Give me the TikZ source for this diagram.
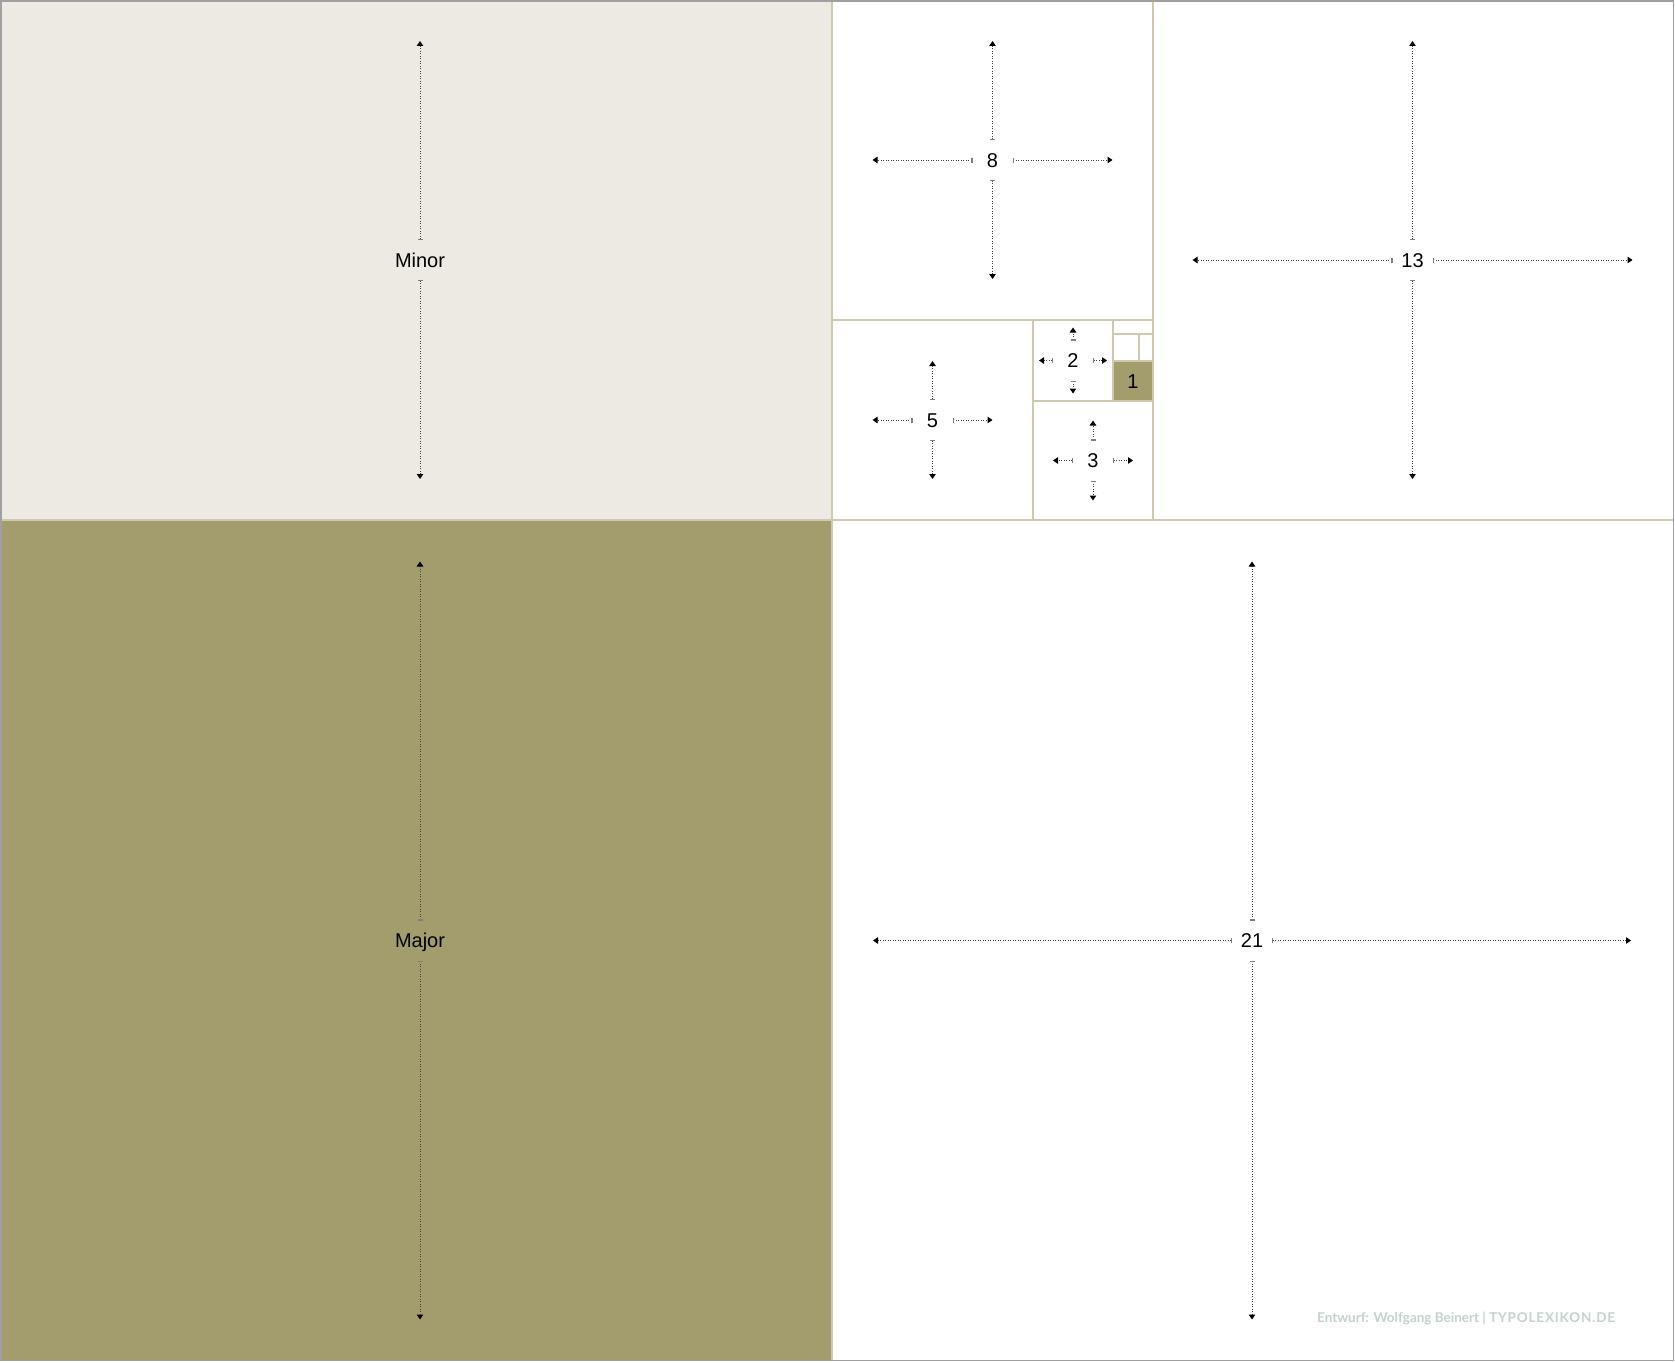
\documentclass[tikz,border=0pt]{standalone}
\usepackage{fontspec}
\setmainfont{Liberation Sans}
\newfontfamily\wmfont{Lato}
\usetikzlibrary{arrows.meta,calc}
\definecolor{beige}{RGB}{237,234,227}
\definecolor{olive}{RGB}{163,156,108}
\definecolor{rule}{RGB}{206,201,175}
\definecolor{frame}{RGB}{160,160,160}
\definecolor{wm}{RGB}{197,211,208}
\tikzset{
  lbl/.style={font=\fontsize{20}{20}\selectfont, inner sep=0pt, text=black,
    text height=14.4pt, text depth=0pt},
  dimarr/.style={line width=1pt, draw=black!75, dash pattern=on 1pt off 1.5pt,
    arrows={Bar[width=5pt,line width=1.3pt,color=black!50]-Triangle[width=6.5pt,length=5pt,color=black]}},
  divline/.style={draw=rule, line width=1.5pt},
}
% \fibx{name}{cx}{cy}{half-w of arrows (0=none)}{half-h}{text}
\newcommand\fibx[6]{%
  \node[lbl] (#1) at (#2,#3) {#6};
  \coordinate (#1-n) at (#2,#3-#5);
  \coordinate (#1-s) at (#2,#3+#5);
  \draw[dimarr] ($(#1)+(0,-20)$) -- (#1-n);
  \draw[dimarr] ($(#1)+(0,20)$) -- (#1-s);
  \ifnum#4>0
    \coordinate (#1-w) at (#2-#4,#3);
    \coordinate (#1-e) at (#2+#4,#3);
    \draw[dimarr] ($(#1)+(-20,0)$) -- (#1-w);
    \draw[dimarr] ($(#1)+(20,0)$) -- (#1-e);
  \fi
}
\begin{document}
\begin{tikzpicture}[x=1pt,y=-1pt]
\useasboundingbox (0,0) rectangle (1675,1362);
\fill[white] (0,0) rectangle (1675,1362);
% coloured fields
\fill[beige] (0,0) rectangle (832,520);
\fill[olive] (0,520) rectangle (832,1360);
\fill[olive] (1113,361) rectangle (1153,401);
% division lines
\draw[divline] (832,0) -- (832,1360);
\draw[divline] (0,520) -- (1673,520);
\draw[divline] (1153,0) -- (1153,520);
\draw[divline] (832,320) -- (1153,320);
\draw[divline] (1033,320) -- (1033,520);
\draw[divline] (1033,401) -- (1153,401);
\draw[divline] (1113,320) -- (1113,401);
\draw[divline] (1113,334) -- (1153,334);
\draw[divline] (1139,334) -- (1139,361);
\draw[divline] (1113,361) -- (1153,361);
% outer frame
\draw[frame, line width=1.6pt] (0.8,0.8) rectangle (1673.6,1360.6);
% labels with dimension arrows
\fibx{minor}{420}{260}{0}{219}{Minor}
\fibx{major}{420}{940.5}{0}{379}{Major}
\fibx{eight}{992.5}{160}{120}{119}{8}
\fibx{thirteen}{1412.5}{260}{220}{219}{13}
\fibx{twentyone}{1252}{940.5}{379}{379}{21}
\fibx{five}{932.5}{420}{60}{59}{5}
\fibx{three}{1093}{460.5}{40}{40}{3}
\fibx{two}{1073}{360.5}{34}{33}{2}
\node[lbl] (one) at (1133,381) {1};
% credit
\node[font=\wmfont\bfseries\fontsize{13.5}{13.5}\selectfont, text=wm, inner sep=0pt, anchor=west] (credit) at (1317,1318)
  {Entwurf: Wolfgang Beinert | {\addfontfeature{LetterSpace=6}TYPOLEXIKON.DE}};
\end{tikzpicture}
\end{document}
